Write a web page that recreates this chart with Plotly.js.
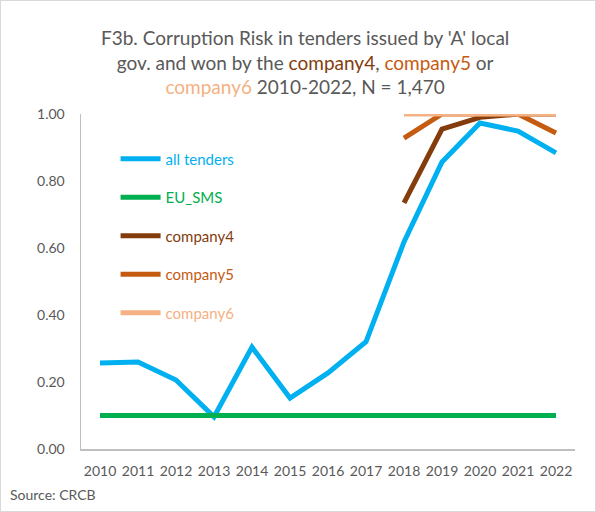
<!DOCTYPE html>
<html>
<head>
<meta charset="utf-8">
<script src="https://cdn.plot.ly/plotly-3.0.1.min.js"></script>
<style>
html,body{margin:0;padding:0;background:#fff;}
#wrap{position:relative;width:596px;height:512px;}
#chart{width:596px;height:512px;}
#frame{position:absolute;left:0;top:0;width:594px;height:510px;border:1px solid #D9D9D9;pointer-events:none;}
</style>
</head>
<body>
<div id="wrap"><div id="chart"></div><div id="frame"></div></div>
<script>
const years = ['2010','2011','2012','2013','2014','2015','2016','2017','2018','2019','2020','2021','2022'];
const allTenders = [0.257,0.260,0.206,0.096,0.304,0.152,0.227,0.320,0.618,0.857,0.973,0.949,0.884];
const euSMS = [0.10,0.10,0.10,0.10,0.10,0.10,0.10,0.10,0.10,0.10,0.10,0.10,0.10];
const companyYears = ['2018','2019','2020','2021','2022'];
const company4 = [0.735,0.955,0.99,1.0,1.0];
const company5 = [0.928,1.0,1.0,1.0,0.943];
const company6 = [1.0,1.0,1.0,1.0,1.0];

const C_ALL='#00B0F0', C_EU='#00B050', C4='#843C0C', C5='#C55A11', C6='#F4B183';
function nm(t,c){return '<span style="color:'+c+'">'+t+'</span>';}

const traces = [
  {x:years,y:allTenders,name:nm('all tenders',C_ALL),legendgroup:'a',line:{color:C_ALL,width:5}},
  {x:years,y:euSMS,name:nm('EU_SMS',C_EU),legendgroup:'b',line:{color:C_EU,width:5}},
  {x:companyYears,y:company4,name:nm('company4',C4),legendgroup:'c',line:{color:C4,width:5}},
  {x:companyYears,y:company5,name:nm('company5',C5),legendgroup:'d',line:{color:C5,width:5}},
  {x:companyYears,y:company6,name:nm('company6',C6),legendgroup:'e',line:{color:C6,width:5}}
].map(t=>Object.assign({type:'scatter',mode:'lines',hoverinfo:'skip'},t));

const FONT = 'Lato, "Open Sans", "Noto Sans", sans-serif';
const layout = {
  width:596,height:512,
  margin:{l:81,r:21,t:114,b:63},
  paper_bgcolor:'#fff',plot_bgcolor:'#fff',
  font:{family:FONT,color:'#595959',size:13},
  title:{
    text:"F3b. Corruption Risk in tenders issued by 'A' local<br>gov. and won by the "+nm('company4',C4)+", "+nm('company5',C5)+" or<br>"+nm('company6',C6)+" 2010-2022, N = 1,470",
    font:{family:FONT,size:19,color:'#595959'},
    x:0.512,xref:'container',xanchor:'center',
    y:0.912,yref:'container',yanchor:'top'
  },
  xaxis:{type:'category',range:[-0.5,12.5],showgrid:false,zeroline:false,showline:true,linecolor:'#BFBFBF',linewidth:1.5,
    ticks:'',tickfont:{size:14,color:'#595959'},ticklabelstandoff:9,fixedrange:true},
  yaxis:{range:[0,1.0],dtick:0.2,tickformat:'.2f',showgrid:false,zeroline:false,showline:true,linecolor:'#BFBFBF',linewidth:1.5,
    ticks:'',tickfont:{size:14,color:'#595959'},ticklabelstandoff:12,fixedrange:true},
  showlegend:true,
  legend:{x:0.07,y:0.915,xanchor:'left',yanchor:'top',bgcolor:'rgba(0,0,0,0)',
    font:{family:FONT,size:15},traceorder:'grouped',tracegroupgap:16,itemwidth:40},
  annotations:[{text:'Source: CRCB',xref:'paper',yref:'paper',x:-0.148,y:-0.105,xanchor:'left',yanchor:'top',
    showarrow:false,font:{family:FONT,size:14,color:'#595959'}}]
};
Plotly.newPlot('chart',traces,layout,{displayModeBar:false,staticPlot:true});
</script>
</body>
</html>
